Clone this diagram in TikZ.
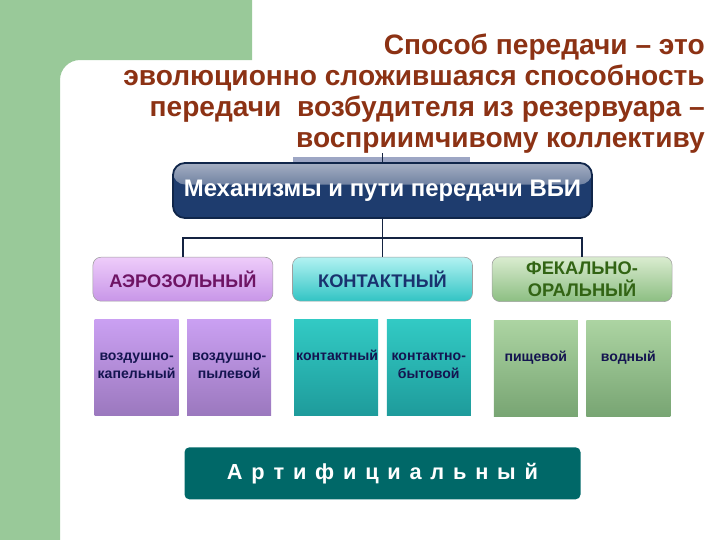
\documentclass[tikz,border=0pt]{standalone}
\usepackage{fontspec}
\setmainfont{Liberation Sans}
\newfontfamily\artfont[WordSpace=1.45]{Liberation Sans}
\usepackage{xcolor}
\usepackage{tikz}
\usetikzlibrary{positioning,calc,backgrounds}

\definecolor{pagegreen}{RGB}{153,201,153}
\definecolor{titlebrown}{RGB}{140,50,20}
\definecolor{mechnavy}{RGB}{30,60,110}
\definecolor{mechline}{RGB}{16,38,74}
\definecolor{mechband}{RGB}{165,175,195}
\definecolor{slatebar}{RGB}{157,166,196}
\definecolor{linknavy}{RGB}{20,35,65}
\definecolor{aerotop}{RGB}{238,204,250}
\definecolor{aerobot}{RGB}{200,150,232}
\definecolor{aerotext}{RGB}{110,20,100}
\definecolor{konttop}{RGB}{178,242,242}
\definecolor{kontbot}{RGB}{50,196,196}
\definecolor{konttext}{RGB}{25,50,110}
\definecolor{fektop}{RGB}{218,236,208}
\definecolor{fekbot}{RGB}{140,190,130}
\definecolor{fektext}{RGB}{50,100,20}
\definecolor{aerosubtop}{RGB}{202,160,242}
\definecolor{aerosubbot}{RGB}{155,120,190}
\definecolor{kontsubtop}{RGB}{50,202,196}
\definecolor{kontsubbot}{RGB}{30,155,155}
\definecolor{feksubtop}{RGB}{172,212,162}
\definecolor{feksubbot}{RGB}{120,165,115}
\definecolor{waytext}{RGB}{20,20,80}
\definecolor{artteal}{RGB}{0,104,104}

\begin{document}
\begin{tikzpicture}[node distance=0.45cm,font=\bfseries]
        \tikzstyle{title}=[inner sep=0pt,align=right,text=titlebrown,font=\fontsize{20}{22}\selectfont\bfseries]
        \tikzstyle{mech}=[rectangle,rounded corners=0.3cm,minimum width=10.475cm,minimum height=1.375cm,draw=mechline,line width=1.3pt,fill=mechnavy,text=white,font=\fontsize{17}{20}\selectfont\bfseries,
            path picture={\shade[top color=mechband,bottom color=mechnavy] (path picture bounding box.north west) rectangle ($(path picture bounding box.east)+(0,0.15)$);}]
        \tikzstyle{kind}=[rectangle,rounded corners=0.2cm,minimum width=4.5cm,minimum height=1.1cm,draw=gray!75,align=center,font=\fontsize{13}{16}\selectfont\bfseries]
        \tikzstyle{way}=[rectangle,inner sep=0.05cm,text width=2.0cm,align=center,text height=0.975cm,text depth=1.325cm,text=waytext,font=\fontsize{10}{12.5}\selectfont\bfseries]
        \tikzstyle{art}=[rectangle,rounded corners=0.12cm,minimum width=9.9cm,minimum height=1.3cm,fill=artteal,text=white,font=\artfont\fontsize{15.5}{18}\selectfont\bfseries]
        \tikzstyle{link}=[draw=linknavy,line width=1.3pt]
        \useasboundingbox (0,0) rectangle (18,-13.5);
        % page background
        \fill[pagegreen] (0,0) -- (6.3,0) -- (6.3,-1.5) -- (2.0,-1.5) arc (90:180:0.5) -- (1.5,-13.5) -- (0,-13.5) -- cycle;
        \node[title,anchor=north east] (title) at (17.625,-0.84) {Способ передачи -- это\\эволюционно сложившаяся способность\\передачи~ возбудителя из резервуара --\\восприимчивому коллективу};
        \fill[slatebar] (7.325,-3.925) rectangle (11.75,-4.075);
        \node[mech] (mech) at (9.5625,-4.7625) {Механизмы и пути передачи ВБИ};
        % second level
        \node[kind,top color=konttop,bottom color=kontbot,text=konttext,below=0.95cm of mech] (kont) {КОНТАКТНЫЙ};
        \node[kind,top color=aerotop,bottom color=aerobot,text=aerotext,left=0.475cm of kont] (aero) {АЭРОЗОЛЬНЫЙ};
        \node[kind,top color=fektop,bottom color=fekbot,text=fektext,right=0.475cm of kont] (fek) {ФЕКАЛЬНО-\\ОРАЛЬНЫЙ};
        % ways
        \node[way,top color=aerosubtop,bottom color=aerosubbot,below left=0.45cm and 0.1cm of aero.south] (aero1) {воздушно-\\капельный};
        \node[way,top color=aerosubtop,bottom color=aerosubbot,below right=0.45cm and 0.1cm of aero.south] (aero2) {воздушно-\\пылевой};
        \node[way,top color=kontsubtop,bottom color=kontsubbot,below left=0.45cm and 0.1cm of kont.south] (kont1) {контактный};
        \node[way,top color=kontsubtop,bottom color=kontsubbot,below right=0.45cm and 0.1cm of kont.south] (kont2) {контактно-\\бытовой};
        \node[way,top color=feksubtop,bottom color=feksubbot,below left=0.45cm and 0.1cm of fek.south] (fek1) {пищевой};
        \node[way,top color=feksubtop,bottom color=feksubbot,below right=0.45cm and 0.1cm of fek.south] (fek2) {водный};
        \coordinate (kmid) at ($(kont1.south)!0.5!(kont2.south)$);
        \node[art,below=0.775cm of kmid] (art) {А р т и ф и ц и а л ь н ы й};
        % connectors
        \draw[link] (mech.north) -- (mech.north |- title.south);
        \coordinate (bus) at ($(mech.south)!0.5!(kont.north)$);
        \draw[link] (mech.south) -- (kont.north);
        \draw[link] (aero.north) |- (bus) -| (fek.north);
\end{tikzpicture}
\end{document}
